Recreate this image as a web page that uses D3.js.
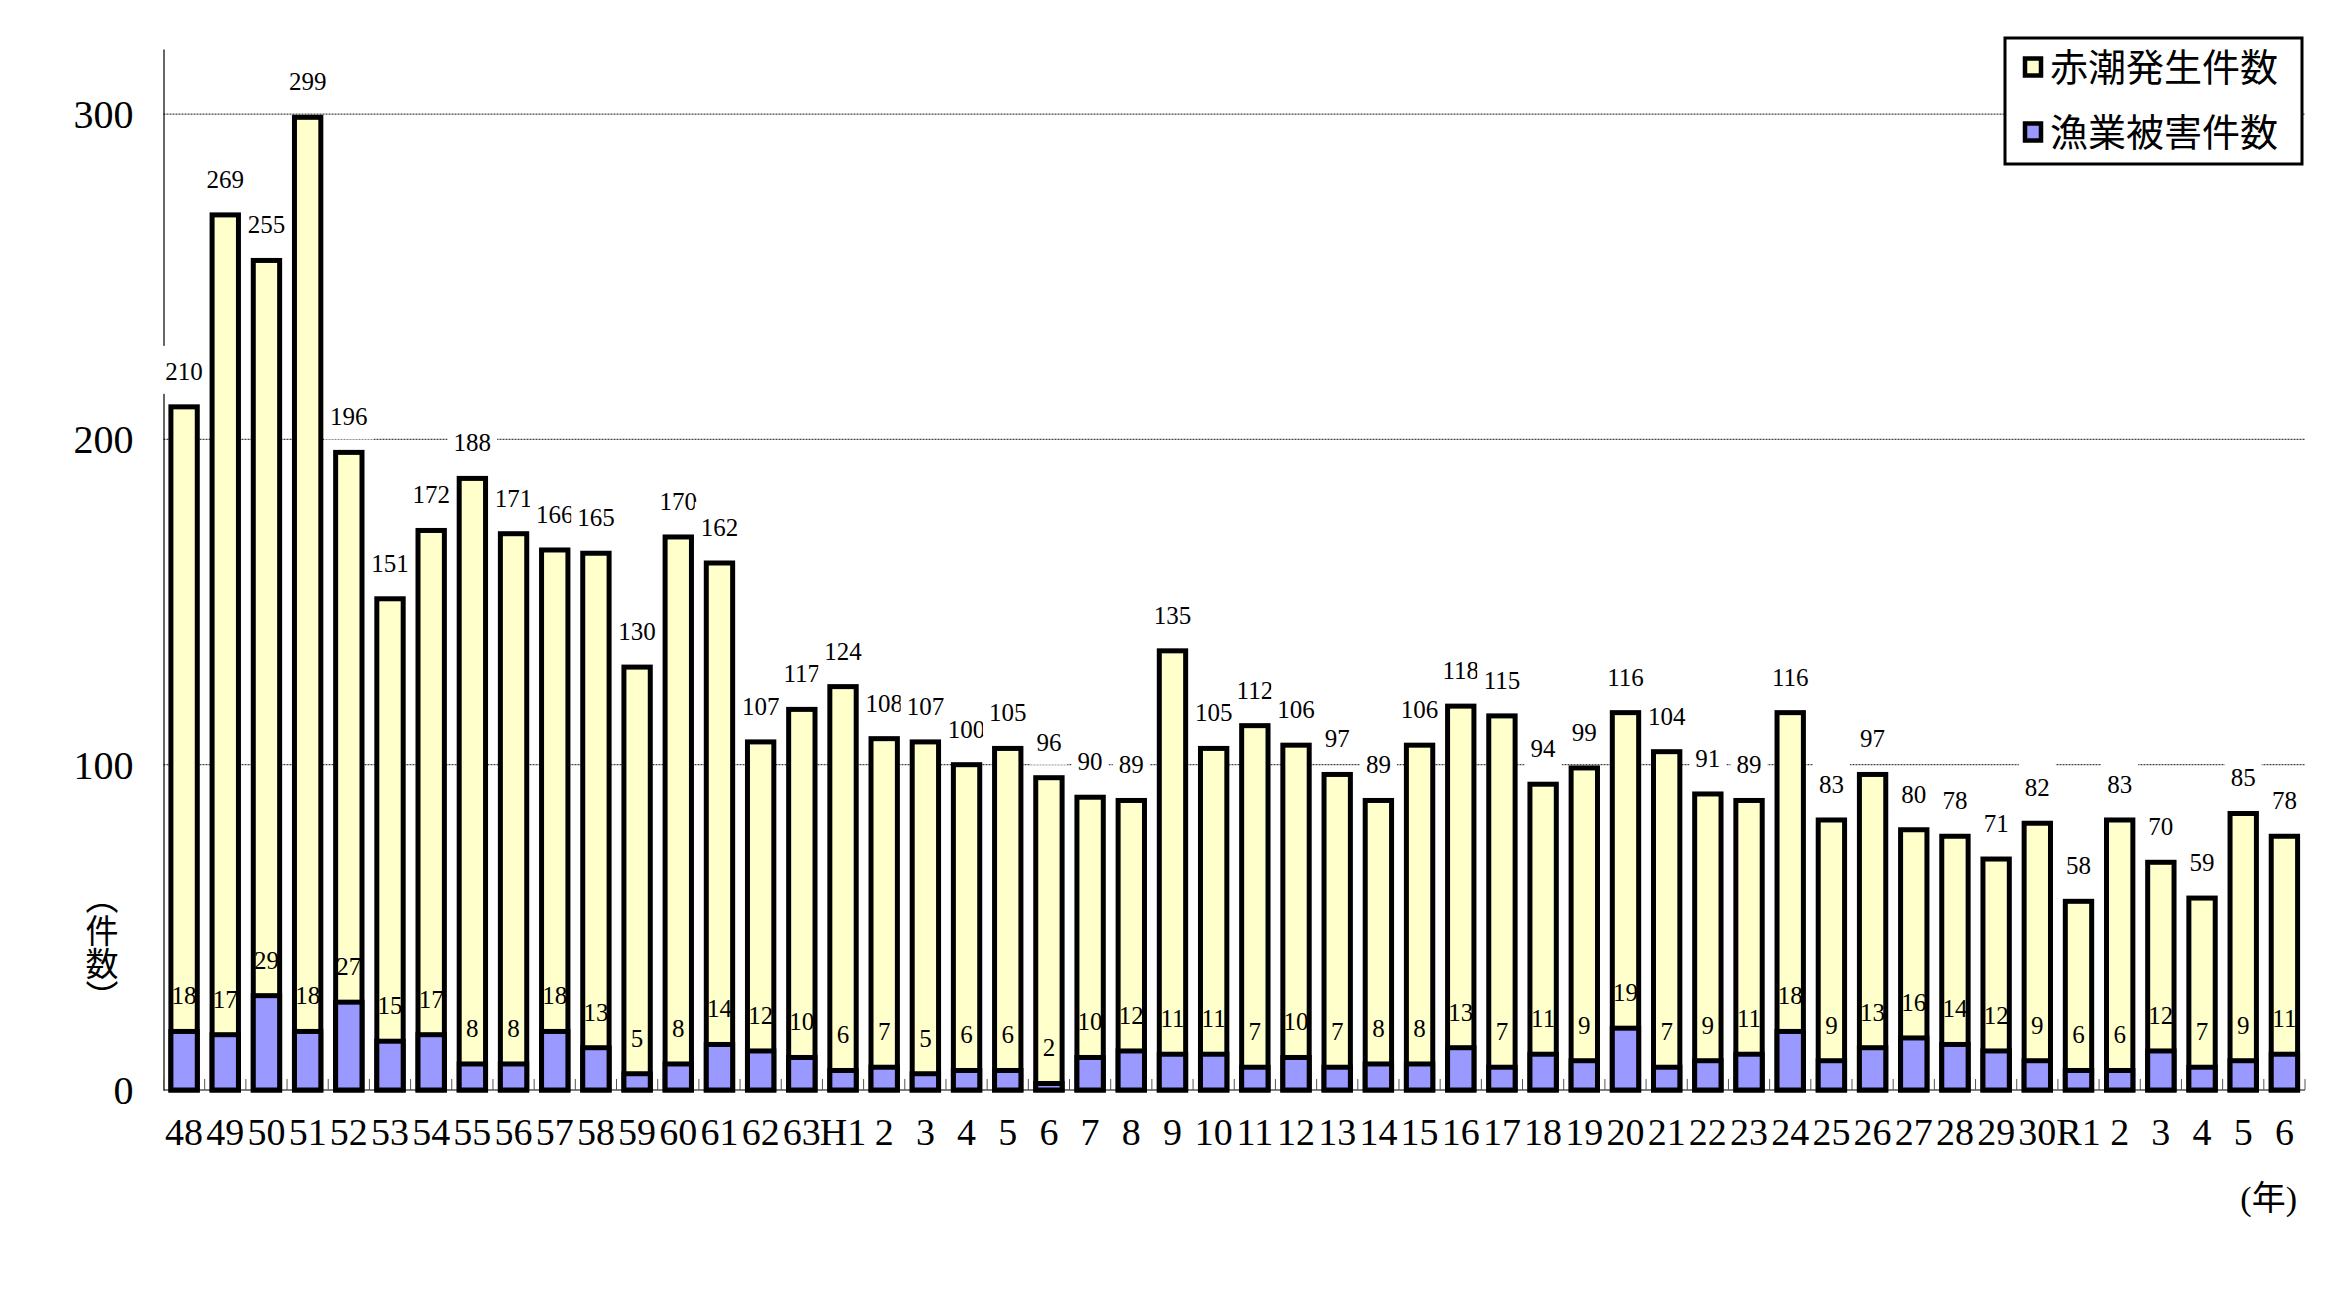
<!DOCTYPE html>
<html>
<head>
<meta charset="utf-8">
<script src="https://d3js.org/d3.v7.js"></script>
<style>
    body{
        margin: 0;
        background: #fff;
    }
    svg text{
        font-family: 'Liberation Serif', 'Noto Sans CJK JP', serif;
        fill: #000;
    }
    .jp{
        font-family: 'Noto Sans CJK JP', sans-serif;
    }
</style>
</head>
<body>
<div class="graph"></div>
<script>
// year labels (Showa 48-63, Heisei 1-30, Reiwa 1-6)
const years = ['48','49','50','51','52','53','54','55','56','57','58','59','60','61','62','63',
    'H1','2','3','4','5','6','7','8','9','10','11','12','13','14','15','16','17','18','19','20',
    '21','22','23','24','25','26','27','28','29','30',
    'R1','2','3','4','5','6']
// 赤潮発生件数
const redTide = [210,269,255,299,196,151,172,188,171,166,165,130,170,162,107,117,
    124,108,107,100,105,96,90,89,135,105,112,106,97,89,106,118,115,94,99,116,
    104,91,89,116,83,97,80,78,71,82,
    58,83,70,59,85,78]
// 漁業被害件数
const damage = [18,17,29,18,27,15,17,8,8,18,13,5,8,14,12,10,
    6,7,5,6,6,2,10,12,11,11,7,10,7,8,8,13,7,11,9,19,
    7,9,11,18,9,13,16,14,12,9,
    6,6,12,7,9,11]
const yTicks = [0,100,200,300]
const seriesNames = ['赤潮発生件数','漁業被害件数']
const seriesColours = ['#FFFFCC','#9999FF']

const w = 2331
const h = 1296
const plotLeft = 163.5, plotRight = 2305, plotTop = 49, plotBottom = 1090

const svg = d3.select('.graph')
    .append('svg')
    .attr('width', w)
    .attr('height', h)

const x = d3.scaleBand()
    .domain(d3.range(years.length))
    .range([plotLeft, plotRight])
    .paddingInner(0.36)
    .paddingOuter(0.18)

const y = d3.scaleLinear()
    .domain([0, 320])
    .range([plotBottom, plotTop])

// dotted gridlines
svg.append('g')
    .selectAll('line')
    .data(yTicks.filter(d => d > 0))
    .enter()
    .append('line')
    .attr('x1', plotLeft)
    .attr('x2', plotRight)
    .attr('y1', d => y(d))
    .attr('y2', d => y(d))
    .attr('stroke', '#444')
    .attr('stroke-width', 1.2)
    .attr('stroke-dasharray', '2,1')

// y axis
const yAxis = svg.append('g')
    .attr('transform', 'translate(' + plotLeft + ',0)')
    .call(d3.axisLeft(y).tickValues(yTicks).tickSize(0).tickSizeOuter(0).tickPadding(30))
yAxis.select('.domain').attr('stroke', '#000').attr('stroke-width', 1.2)
yAxis.attr('font-family', null)
yAxis.selectAll('text')
    .attr('font-size', 40)
    .attr('dy', '0.34em')

// x axis line and small inward ticks at category boundaries
svg.append('line')
    .attr('x1', plotLeft)
    .attr('x2', plotRight)
    .attr('y1', y(0))
    .attr('y2', y(0))
    .attr('stroke', '#000')
    .attr('stroke-width', 1.2)

svg.append('g')
    .selectAll('line')
    .data(d3.range(years.length + 1))
    .enter()
    .append('line')
    .attr('x1', i => plotLeft + i * x.step())
    .attr('x2', i => plotLeft + i * x.step())
    .attr('y1', y(0))
    .attr('y2', y(0) - 11)
    .attr('stroke', '#555')
    .attr('stroke-width', 1)

const xAxis = svg.append('g')
    .attr('transform', 'translate(0,' + y(0) + ')')
    .call(d3.axisBottom(x).tickSize(0).tickFormat(i => years[i]))
xAxis.select('.domain').remove()
xAxis.attr('font-family', null)
xAxis.selectAll('text')
    .attr('font-size', 38)
    .attr('y', 55)
    .attr('dy', 0)

// value labels for red tide, on white boxes that break the gridlines
const topLabels = svg.append('g')
    .selectAll('g')
    .data(redTide)
    .enter()
    .append('g')
    .attr('transform', (d, i) => 'translate(' + (x(i) + x.bandwidth() / 2) + ',' + (y(d) - 27) + ')')
topLabels.append('rect')
    .attr('x', d => -(String(d).length * 12.5 + 12) / 2)
    .attr('y', -34)
    .attr('width', d => String(d).length * 12.5 + 12)
    .attr('height', 48)
    .attr('fill', '#fff')
topLabels.append('text')
    .attr('text-anchor', 'middle')
    .attr('font-size', 25)
    .text(d => d)

// bars: red tide behind, fishery damage in front (both from zero)
const seriesData = [redTide, damage]
seriesData.forEach((vals, s) => {
    svg.append('g')
        .selectAll('rect')
        .data(vals)
        .enter()
        .append('rect')
        .attr('x', (d, i) => x(i))
        .attr('y', d => y(d))
        .attr('width', x.bandwidth())
        .attr('height', d => y(0) - y(d))
        .attr('fill', seriesColours[s])
        .attr('stroke', '#000')
        .attr('stroke-width', 5)
})

// value labels for fishery damage
svg.append('g')
    .selectAll('text')
    .data(damage)
    .enter()
    .append('text')
    .attr('x', (d, i) => x(i) + x.bandwidth() / 2)
    .attr('y', d => y(d) - 27)
    .attr('text-anchor', 'middle')
    .attr('font-size', 25)
    .text(d => d)

// axis titles
svg.append('text')
    .attr('class', 'jp')
    .attr('x', 102)
    .attr('y', 947)
    .attr('text-anchor', 'middle')
    .attr('font-size', 33)
    .style('writing-mode', 'vertical-rl')
    .text('（件数）')

svg.append('text')
    .attr('x', 2297)
    .attr('y', 1210)
    .attr('text-anchor', 'end')
    .attr('font-size', 34)
    .text('(年)')

// legend
const legend = svg.append('g')
legend.append('rect')
    .attr('x', 2005)
    .attr('y', 38)
    .attr('width', 297)
    .attr('height', 126)
    .attr('fill', '#fff')
    .attr('stroke', '#000')
    .attr('stroke-width', 3)

const item = legend.selectAll('.legend-item')
    .data(seriesNames)
    .enter()
    .append('g')
    .attr('class', 'legend-item')
    .attr('transform', (d, i) => 'translate(2025,' + (67 + i * 65) + ')')
item.append('rect')
    .attr('x', 0)
    .attr('y', -8.5)
    .attr('width', 16)
    .attr('height', 17)
    .attr('fill', (d, i) => seriesColours[i])
    .attr('stroke', '#000')
    .attr('stroke-width', 4.5)
item.append('text')
    .attr('class', 'jp')
    .attr('x', 25)
    .attr('y', 0)
    .attr('dy', '0.36em')
    .attr('font-size', 38)
    .text(d => d)
</script>
</body>
</html>
